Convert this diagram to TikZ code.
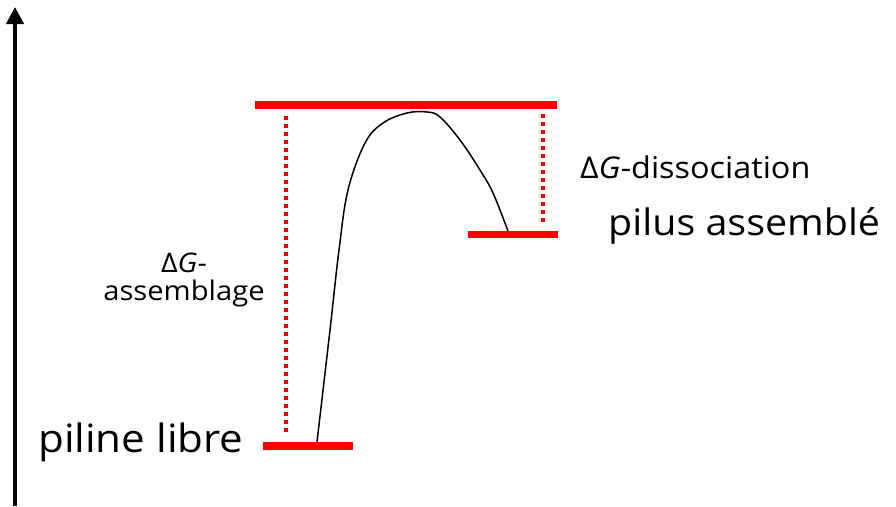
\documentclass[tikz,border=0pt]{standalone}
\usepackage{fontspec}
\setmainfont{Open Sans}[FakeStretch=1.08]
\usetikzlibrary{arrows.meta}
\definecolor{barred}{RGB}{255,0,0}
\tikzset{
  bar/.style={draw=barred, line width=7.5pt},
  gap/.style={draw=barred, line width=3.5pt, dash pattern=on 3.5pt off 4.5pt},
  curve/.style={draw=black, line width=1.5pt},
  lbl/.style={inner sep=0pt, text=black},
}
\begin{document}
\begin{tikzpicture}[x=1pt,y=-1pt]
\useasboundingbox (0,0) rectangle (896,506);
% axis
\coordinate (ax0) at (15,506);
\coordinate (ax1) at (15,7);
\draw[line width=4pt, -{Triangle[width=17pt,length=17pt]}] (ax0) -- (ax1);
% bars
\coordinate (t1) at (255,105); \coordinate (t2) at (557,105);
\coordinate (r1) at (468,234.5); \coordinate (r2) at (558,234.5);
\coordinate (b1) at (263,446); \coordinate (b2) at (353,446);
\draw[bar] (t1) -- (t2);
\draw[bar] (r1) -- (r2);
\draw[bar] (b1) -- (b2);
% dotted gaps
\coordinate (ld1) at (286,116); \coordinate (ld2) at (286,434);
\coordinate (rd1) at (543,114); \coordinate (rd2) at (543,222);
\draw[gap] (ld1) -- (ld2);
\draw[gap] (rd1) -- (rd2);
% reaction curve
\coordinate (cs) at (317,442);
\coordinate (ce) at (508,231);
\draw[curve] plot[smooth, tension=0.6] coordinates {(317,442) (330,330) (339,250) (348,190) (365,143) (383,123) (407,113) (427,112) (440,117) (460,140) (480,170) (493,193) (508,231)};
% labels
\node[lbl, anchor=base west, font=\fontsize{39}{42}\selectfont] (pl) at (38,452) {piline libre};
\node[lbl, anchor=base west, font=\fontsize{36.5}{40}\selectfont] (pa) at (608,235) {pilus assemblé};
\node[lbl, anchor=base west, font=\fontsize{30}{32}\selectfont] (dd) at (580,178) {Δ\textit{G}-dissociation};
\node[lbl, anchor=base, font=\fontsize{27}{30}\selectfont] (da) at (184,272) {Δ\textit{G}-};
\node[lbl, anchor=base, font=\fontsize{27}{30}\selectfont] (as) at (184,300) {assemblage};
\end{tikzpicture}
\end{document}
